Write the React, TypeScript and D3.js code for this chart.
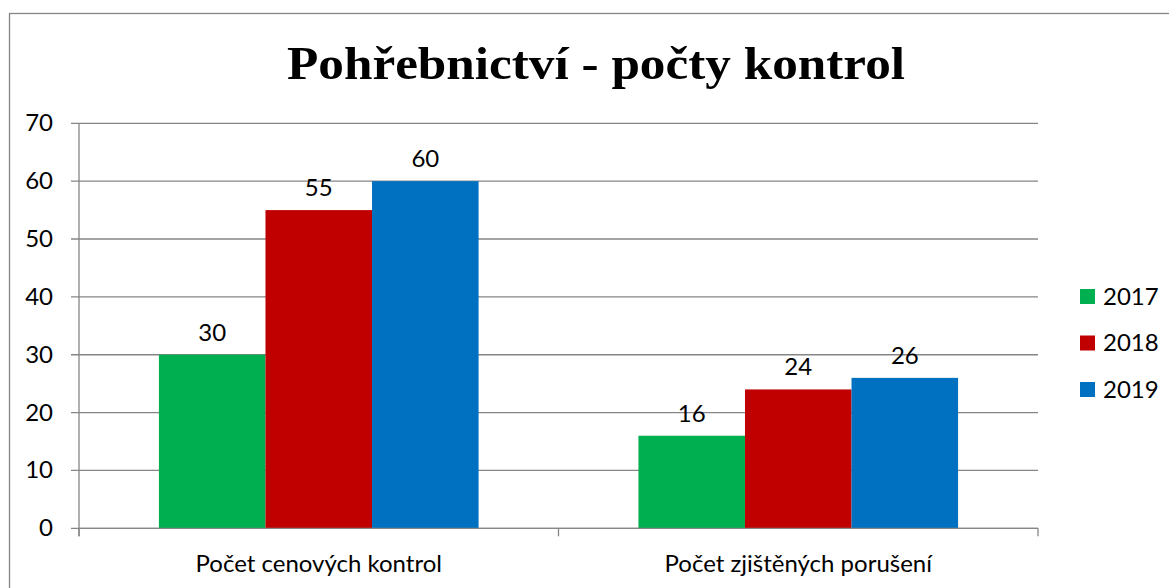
import { scaleBand, scaleLinear } from "d3";

const categories = ["Počet cenových kontrol", "Počet zjištěných porušení"];
const years = ["2017", "2018", "2019"];
const values2017 = [30, 16];
const values2018 = [55, 24];
const values2019 = [60, 26];
const yTicks = [0, 10, 20, 30, 40, 50, 60, 70];
const colors = ["#00B050", "#C00000", "#0070C0"];

const series = [values2017, values2018, values2019];

const W = 1169;
const H = 588;
const left = 79;
const right = 1038;
const top = 123.3;
const bottom = 528.3;
const font = "Lato, 'Open Sans', sans-serif";
const fs = 24;

const x = scaleBand().domain(categories).range([left, right]);
// Excel gap width 150% -> 3 bars + 1.5 bar of gap per category
const inner = scaleBand().domain(years).range([0, x.bandwidth()]).paddingInner(0).paddingOuter(0.75);
const y = scaleLinear().domain([0, 70]).range([bottom, top]);

function App() {
  const grid = "#868686";
  return (
    <svg width={W} height={H} style={{ position: "absolute", left: 0, top: 0, background: "#fff" }}>
      <rect x={9.5} y={13.5} width={1200} height={700} fill="#fff" stroke={grid} strokeWidth={1.3} />
      <text
        x={596}
        y={79}
        textAnchor="middle"
        fontFamily="'Liberation Serif', 'DejaVu Serif', serif"
        fontWeight="bold"
        fontSize={46}
        textLength={618}
        lengthAdjust="spacingAndGlyphs"
        fill="#000"
      >
        Pohřebnictví - počty kontrol
      </text>

      {yTicks.map((t) => (
        <g key={t}>
          <line x1={left - 8} x2={right} y1={y(t)} y2={y(t)} stroke={grid} strokeWidth={1.3} />
          <text x={53} y={y(t) + 8} textAnchor="end" fontFamily={font} fontSize={fs} fill="#000">
            {t}
          </text>
        </g>
      ))}

      {series.map((vals, si) =>
        categories.map((c, ci) => {
          const bx = (x(c) ?? 0) + (inner(years[si]) ?? 0);
          const bw = inner.bandwidth();
          return (
            <g key={`${si}-${ci}`}>
              <rect x={bx} y={y(vals[ci])} width={bw} height={bottom - y(vals[ci])} fill={colors[si]} />
              <text x={bx + bw / 2} y={y(vals[ci]) - 14} textAnchor="middle" fontFamily={font} fontSize={fs} fill="#000">
                {vals[ci]}
              </text>
            </g>
          );
        })
      )}

      <line x1={left} x2={left} y1={top} y2={bottom + 8} stroke={grid} strokeWidth={1.3} />
      <line x1={left} x2={right} y1={bottom} y2={bottom} stroke={grid} strokeWidth={1.3} />
      {[...categories.map((c) => x(c) ?? 0), right].map((tx, i) => (
        <line key={i} x1={tx} x2={tx} y1={bottom} y2={bottom + 8} stroke={grid} strokeWidth={1.3} />
      ))}

      {categories.map((c) => (
        <text key={c} x={(x(c) ?? 0) + x.bandwidth() / 2} y={572} textAnchor="middle" fontFamily={font} fontSize={fs} fill="#000">
          {c}
        </text>
      ))}

      {years.map((yr, i) => (
        <g key={yr} transform={`translate(1080, ${289 + i * 46.5})`}>
          <rect x={0} y={0} width={15} height={15} fill={colors[i]} />
          <text x={23} y={15.5} fontFamily={font} fontSize={fs} fill="#000">
            {yr}
          </text>
        </g>
      ))}
    </svg>
  );
}

export default App;
